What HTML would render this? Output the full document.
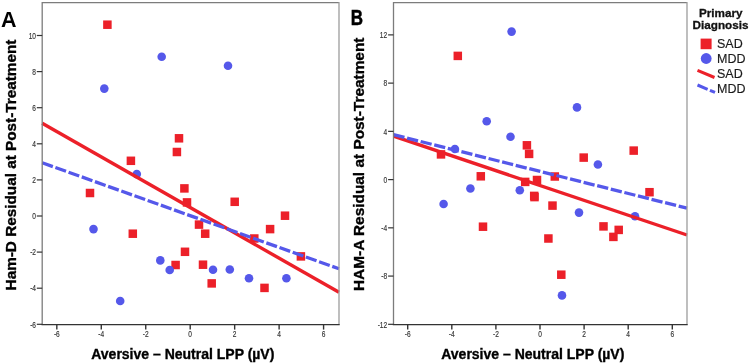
<!DOCTYPE html>
<html><head><meta charset="utf-8"><style>
html,body{margin:0;padding:0;background:#fff;}
svg{display:block;will-change:transform;}
text{font-family:"Liberation Sans",sans-serif;}
.tk{font-size:8.8px;fill:#333;stroke:#333;stroke-width:0.15px;}
.lbl{font-size:21.5px;font-weight:bold;fill:#000;}
.xt{font-size:14px;font-weight:bold;fill:#000;stroke:#000;stroke-width:0.35px;}
.yt{font-size:15.3px;font-weight:bold;fill:#000;stroke:#000;stroke-width:0.35px;}
.lt{font-size:11.7px;font-weight:bold;fill:#111;stroke:#111;stroke-width:0.3px;}
.li{font-size:12.5px;fill:#1a1a1a;stroke:#1a1a1a;stroke-width:0.15px;}
</style></head><body>
<svg width="750" height="363" viewBox="0 0 750 363">
<rect width="750" height="363" fill="#fff"/>
<rect x="103.15" y="20.45" width="8.5" height="8.5" fill="#ec2029"/>
<rect x="174.75" y="134.05" width="8.5" height="8.5" fill="#ec2029"/>
<rect x="172.65" y="147.75" width="8.5" height="8.5" fill="#ec2029"/>
<rect x="126.65" y="156.55" width="8.5" height="8.5" fill="#ec2029"/>
<rect x="180.15" y="184.15" width="8.5" height="8.5" fill="#ec2029"/>
<rect x="85.75" y="188.75" width="8.5" height="8.5" fill="#ec2029"/>
<rect x="182.75" y="198.15" width="8.5" height="8.5" fill="#ec2029"/>
<rect x="230.45" y="197.55" width="8.5" height="8.5" fill="#ec2029"/>
<rect x="128.55" y="229.45" width="8.5" height="8.5" fill="#ec2029"/>
<rect x="194.75" y="220.35" width="8.5" height="8.5" fill="#ec2029"/>
<rect x="200.95" y="229.45" width="8.5" height="8.5" fill="#ec2029"/>
<rect x="180.75" y="247.55" width="8.5" height="8.5" fill="#ec2029"/>
<rect x="171.35" y="260.75" width="8.5" height="8.5" fill="#ec2029"/>
<rect x="198.75" y="260.45" width="8.5" height="8.5" fill="#ec2029"/>
<rect x="207.45" y="279.15" width="8.5" height="8.5" fill="#ec2029"/>
<rect x="260.25" y="283.65" width="8.5" height="8.5" fill="#ec2029"/>
<rect x="280.75" y="211.45" width="8.5" height="8.5" fill="#ec2029"/>
<rect x="265.85" y="224.85" width="8.5" height="8.5" fill="#ec2029"/>
<rect x="250.05" y="234.25" width="8.5" height="8.5" fill="#ec2029"/>
<rect x="296.65" y="252.15" width="8.5" height="8.5" fill="#ec2029"/>
<circle cx="161.70" cy="56.70" r="4.3" fill="#5558ea"/>
<circle cx="228.00" cy="65.80" r="4.3" fill="#5558ea"/>
<circle cx="104.30" cy="88.60" r="4.3" fill="#5558ea"/>
<circle cx="136.80" cy="174.10" r="4.3" fill="#5558ea"/>
<circle cx="93.50" cy="229.10" r="4.3" fill="#5558ea"/>
<circle cx="160.30" cy="260.40" r="4.3" fill="#5558ea"/>
<circle cx="169.70" cy="270.00" r="4.3" fill="#5558ea"/>
<circle cx="213.00" cy="269.80" r="4.3" fill="#5558ea"/>
<circle cx="229.80" cy="269.50" r="4.3" fill="#5558ea"/>
<circle cx="249.00" cy="278.30" r="4.3" fill="#5558ea"/>
<circle cx="286.40" cy="278.30" r="4.3" fill="#5558ea"/>
<circle cx="120.20" cy="301.00" r="4.3" fill="#5558ea"/>
<line x1="42.2" y1="123.2" x2="339" y2="292.3" stroke="#ec2029" stroke-width="3.4"/>
<line x1="42.2" y1="162.8" x2="339" y2="268.8" stroke="#5558ea" stroke-width="3.3" stroke-dasharray="11.3 2.7"/>
<polyline points="42.2,324.6 42.2,2.7 339.0,2.7" fill="none" stroke="#7c7c7c" stroke-width="1.3"/>
<line x1="339.0" y1="2.1" x2="339.0" y2="324.6" stroke="#9c9c9c" stroke-width="1.3"/>
<line x1="41.5" y1="324.6" x2="339.7" y2="324.6" stroke="#333333" stroke-width="1.4"/>
<line x1="36.800000000000004" y1="324.30" x2="42.2" y2="324.30" stroke="#333333" stroke-width="1.2"/>
<text transform="translate(36.0 327.50) scale(0.75 1)" text-anchor="end" class="tk">-6</text>
<line x1="36.800000000000004" y1="288.20" x2="42.2" y2="288.20" stroke="#333333" stroke-width="1.2"/>
<text transform="translate(36.0 291.40) scale(0.75 1)" text-anchor="end" class="tk">-4</text>
<line x1="36.800000000000004" y1="252.10" x2="42.2" y2="252.10" stroke="#333333" stroke-width="1.2"/>
<text transform="translate(36.0 255.30) scale(0.75 1)" text-anchor="end" class="tk">-2</text>
<line x1="36.800000000000004" y1="216.00" x2="42.2" y2="216.00" stroke="#333333" stroke-width="1.2"/>
<text transform="translate(36.0 219.20) scale(0.75 1)" text-anchor="end" class="tk">0</text>
<line x1="36.800000000000004" y1="179.90" x2="42.2" y2="179.90" stroke="#333333" stroke-width="1.2"/>
<text transform="translate(36.0 183.10) scale(0.75 1)" text-anchor="end" class="tk">2</text>
<line x1="36.800000000000004" y1="143.80" x2="42.2" y2="143.80" stroke="#333333" stroke-width="1.2"/>
<text transform="translate(36.0 147.00) scale(0.75 1)" text-anchor="end" class="tk">4</text>
<line x1="36.800000000000004" y1="107.70" x2="42.2" y2="107.70" stroke="#333333" stroke-width="1.2"/>
<text transform="translate(36.0 110.90) scale(0.75 1)" text-anchor="end" class="tk">6</text>
<line x1="36.800000000000004" y1="71.60" x2="42.2" y2="71.60" stroke="#333333" stroke-width="1.2"/>
<text transform="translate(36.0 74.80) scale(0.75 1)" text-anchor="end" class="tk">8</text>
<line x1="36.800000000000004" y1="35.50" x2="42.2" y2="35.50" stroke="#333333" stroke-width="1.2"/>
<text transform="translate(36.0 38.70) scale(0.75 1)" text-anchor="end" class="tk">10</text>
<line x1="56.82" y1="324.6" x2="56.82" y2="329.6" stroke="#333333" stroke-width="1.4"/>
<text transform="translate(56.82 337.20) scale(0.75 1)" text-anchor="middle" class="tk">-6</text>
<line x1="101.28" y1="324.6" x2="101.28" y2="329.6" stroke="#333333" stroke-width="1.4"/>
<text transform="translate(101.28 337.20) scale(0.75 1)" text-anchor="middle" class="tk">-4</text>
<line x1="145.74" y1="324.6" x2="145.74" y2="329.6" stroke="#333333" stroke-width="1.4"/>
<text transform="translate(145.74 337.20) scale(0.75 1)" text-anchor="middle" class="tk">-2</text>
<line x1="190.20" y1="324.6" x2="190.20" y2="329.6" stroke="#333333" stroke-width="1.4"/>
<text transform="translate(190.20 337.20) scale(0.75 1)" text-anchor="middle" class="tk">0</text>
<line x1="234.66" y1="324.6" x2="234.66" y2="329.6" stroke="#333333" stroke-width="1.4"/>
<text transform="translate(234.66 337.20) scale(0.75 1)" text-anchor="middle" class="tk">2</text>
<line x1="279.12" y1="324.6" x2="279.12" y2="329.6" stroke="#333333" stroke-width="1.4"/>
<text transform="translate(279.12 337.20) scale(0.75 1)" text-anchor="middle" class="tk">4</text>
<line x1="323.58" y1="324.6" x2="323.58" y2="329.6" stroke="#333333" stroke-width="1.4"/>
<text transform="translate(323.58 337.20) scale(0.75 1)" text-anchor="middle" class="tk">6</text>
<rect x="453.55" y="51.65" width="8.5" height="8.5" fill="#ec2029"/>
<rect x="436.75" y="150.15" width="8.5" height="8.5" fill="#ec2029"/>
<rect x="522.65" y="141.05" width="8.5" height="8.5" fill="#ec2029"/>
<rect x="524.85" y="149.65" width="8.5" height="8.5" fill="#ec2029"/>
<rect x="476.55" y="172.05" width="8.5" height="8.5" fill="#ec2029"/>
<rect x="520.95" y="177.65" width="8.5" height="8.5" fill="#ec2029"/>
<rect x="532.75" y="175.75" width="8.5" height="8.5" fill="#ec2029"/>
<rect x="550.55" y="172.25" width="8.5" height="8.5" fill="#ec2029"/>
<rect x="579.45" y="153.35" width="8.5" height="8.5" fill="#ec2029"/>
<rect x="629.45" y="146.35" width="8.5" height="8.5" fill="#ec2029"/>
<rect x="645.25" y="187.95" width="8.5" height="8.5" fill="#ec2029"/>
<rect x="529.95" y="191.65" width="8.5" height="8.5" fill="#ec2029"/>
<rect x="530.25" y="192.85" width="8.5" height="8.5" fill="#ec2029"/>
<rect x="548.25" y="201.35" width="8.5" height="8.5" fill="#ec2029"/>
<rect x="478.75" y="222.45" width="8.5" height="8.5" fill="#ec2029"/>
<rect x="544.15" y="234.25" width="8.5" height="8.5" fill="#ec2029"/>
<rect x="557.05" y="270.45" width="8.5" height="8.5" fill="#ec2029"/>
<rect x="599.25" y="222.15" width="8.5" height="8.5" fill="#ec2029"/>
<rect x="614.45" y="225.65" width="8.5" height="8.5" fill="#ec2029"/>
<rect x="609.15" y="232.65" width="8.5" height="8.5" fill="#ec2029"/>
<circle cx="511.60" cy="31.60" r="4.3" fill="#5558ea"/>
<circle cx="486.70" cy="121.20" r="4.3" fill="#5558ea"/>
<circle cx="510.50" cy="136.80" r="4.3" fill="#5558ea"/>
<circle cx="454.90" cy="149.00" r="4.3" fill="#5558ea"/>
<circle cx="577.00" cy="107.40" r="4.3" fill="#5558ea"/>
<circle cx="470.40" cy="188.50" r="4.3" fill="#5558ea"/>
<circle cx="519.80" cy="190.20" r="4.3" fill="#5558ea"/>
<circle cx="443.60" cy="204.00" r="4.3" fill="#5558ea"/>
<circle cx="579.00" cy="212.60" r="4.3" fill="#5558ea"/>
<circle cx="597.90" cy="164.50" r="4.3" fill="#5558ea"/>
<circle cx="635.00" cy="216.30" r="4.3" fill="#5558ea"/>
<circle cx="562.00" cy="295.40" r="4.3" fill="#5558ea"/>
<line x1="393.5" y1="136.2" x2="687" y2="235.0" stroke="#ec2029" stroke-width="3.4"/>
<line x1="393.5" y1="134.7" x2="687" y2="208.2" stroke="#5558ea" stroke-width="3.3" stroke-dasharray="11.3 2.7"/>
<polyline points="393.5,324.6 393.5,2.7 687.0,2.7" fill="none" stroke="#7c7c7c" stroke-width="1.3"/>
<line x1="687.0" y1="2.1" x2="687.0" y2="324.6" stroke="#9c9c9c" stroke-width="1.3"/>
<line x1="392.8" y1="324.6" x2="687.7" y2="324.6" stroke="#333333" stroke-width="1.4"/>
<line x1="388.1" y1="324.32" x2="393.5" y2="324.32" stroke="#333333" stroke-width="1.2"/>
<text transform="translate(387.2 327.52) scale(0.75 1)" text-anchor="end" class="tk">-12</text>
<line x1="388.1" y1="276.08" x2="393.5" y2="276.08" stroke="#333333" stroke-width="1.2"/>
<text transform="translate(387.2 279.28) scale(0.75 1)" text-anchor="end" class="tk">-8</text>
<line x1="388.1" y1="227.84" x2="393.5" y2="227.84" stroke="#333333" stroke-width="1.2"/>
<text transform="translate(387.2 231.04) scale(0.75 1)" text-anchor="end" class="tk">-4</text>
<line x1="388.1" y1="179.60" x2="393.5" y2="179.60" stroke="#333333" stroke-width="1.2"/>
<text transform="translate(387.2 182.80) scale(0.75 1)" text-anchor="end" class="tk">0</text>
<line x1="388.1" y1="131.36" x2="393.5" y2="131.36" stroke="#333333" stroke-width="1.2"/>
<text transform="translate(387.2 134.56) scale(0.75 1)" text-anchor="end" class="tk">4</text>
<line x1="388.1" y1="83.12" x2="393.5" y2="83.12" stroke="#333333" stroke-width="1.2"/>
<text transform="translate(387.2 86.32) scale(0.75 1)" text-anchor="end" class="tk">8</text>
<line x1="388.1" y1="34.88" x2="393.5" y2="34.88" stroke="#333333" stroke-width="1.2"/>
<text transform="translate(387.2 38.08) scale(0.75 1)" text-anchor="end" class="tk">12</text>
<line x1="407.70" y1="324.6" x2="407.70" y2="329.6" stroke="#333333" stroke-width="1.4"/>
<text transform="translate(407.70 337.20) scale(0.75 1)" text-anchor="middle" class="tk">-6</text>
<line x1="451.80" y1="324.6" x2="451.80" y2="329.6" stroke="#333333" stroke-width="1.4"/>
<text transform="translate(451.80 337.20) scale(0.75 1)" text-anchor="middle" class="tk">-4</text>
<line x1="495.90" y1="324.6" x2="495.90" y2="329.6" stroke="#333333" stroke-width="1.4"/>
<text transform="translate(495.90 337.20) scale(0.75 1)" text-anchor="middle" class="tk">-2</text>
<line x1="540.00" y1="324.6" x2="540.00" y2="329.6" stroke="#333333" stroke-width="1.4"/>
<text transform="translate(540.00 337.20) scale(0.75 1)" text-anchor="middle" class="tk">0</text>
<line x1="584.10" y1="324.6" x2="584.10" y2="329.6" stroke="#333333" stroke-width="1.4"/>
<text transform="translate(584.10 337.20) scale(0.75 1)" text-anchor="middle" class="tk">2</text>
<line x1="628.20" y1="324.6" x2="628.20" y2="329.6" stroke="#333333" stroke-width="1.4"/>
<text transform="translate(628.20 337.20) scale(0.75 1)" text-anchor="middle" class="tk">4</text>
<line x1="672.30" y1="324.6" x2="672.30" y2="329.6" stroke="#333333" stroke-width="1.4"/>
<text transform="translate(672.30 337.20) scale(0.75 1)" text-anchor="middle" class="tk">6</text>
<text x="1.0" y="26.7" class="lbl">A</text>
<text x="0" y="0" class="lbl" stroke="#000" stroke-width="0.5" transform="translate(350.8 24.8) scale(0.79 1)">B</text>
<text x="182.8" y="358.6" text-anchor="middle" class="xt">Aversive – Neutral LPP (µV)</text>
<text x="532.8" y="358.6" text-anchor="middle" class="xt">Aversive – Neutral LPP (µV)</text>
<text transform="translate(15.9 165) rotate(-90)" text-anchor="middle" class="yt">Ham-D Residual at Post-Treatment</text>
<text transform="translate(363.9 164.3) rotate(-90)" text-anchor="middle" class="yt" style="font-size:15.4px">HAM-A Residual at Post-Treatment</text>
<text x="720.8" y="16.9" text-anchor="middle" class="lt">Primary</text>
<text x="720.5" y="28.6" text-anchor="middle" class="lt">Diagnosis</text>
<rect x="700.6" y="38.6" width="11" height="10.6" fill="#ec2029"/>
<circle cx="706.2" cy="58.5" r="5.4" fill="#5558ea"/>
<line x1="697.5" y1="70.3" x2="714.5" y2="77.5" stroke="#ec2029" stroke-width="3"/>
<line x1="697.5" y1="85" x2="715" y2="92.4" stroke="#5558ea" stroke-width="3" stroke-dasharray="11 2.5"/>
<text x="717" y="48.3" class="li">SAD</text>
<text x="717" y="63" class="li">MDD</text>
<text x="717" y="78.4" class="li">SAD</text>
<text x="717" y="93.2" class="li">MDD</text>
</svg>
</body></html>
